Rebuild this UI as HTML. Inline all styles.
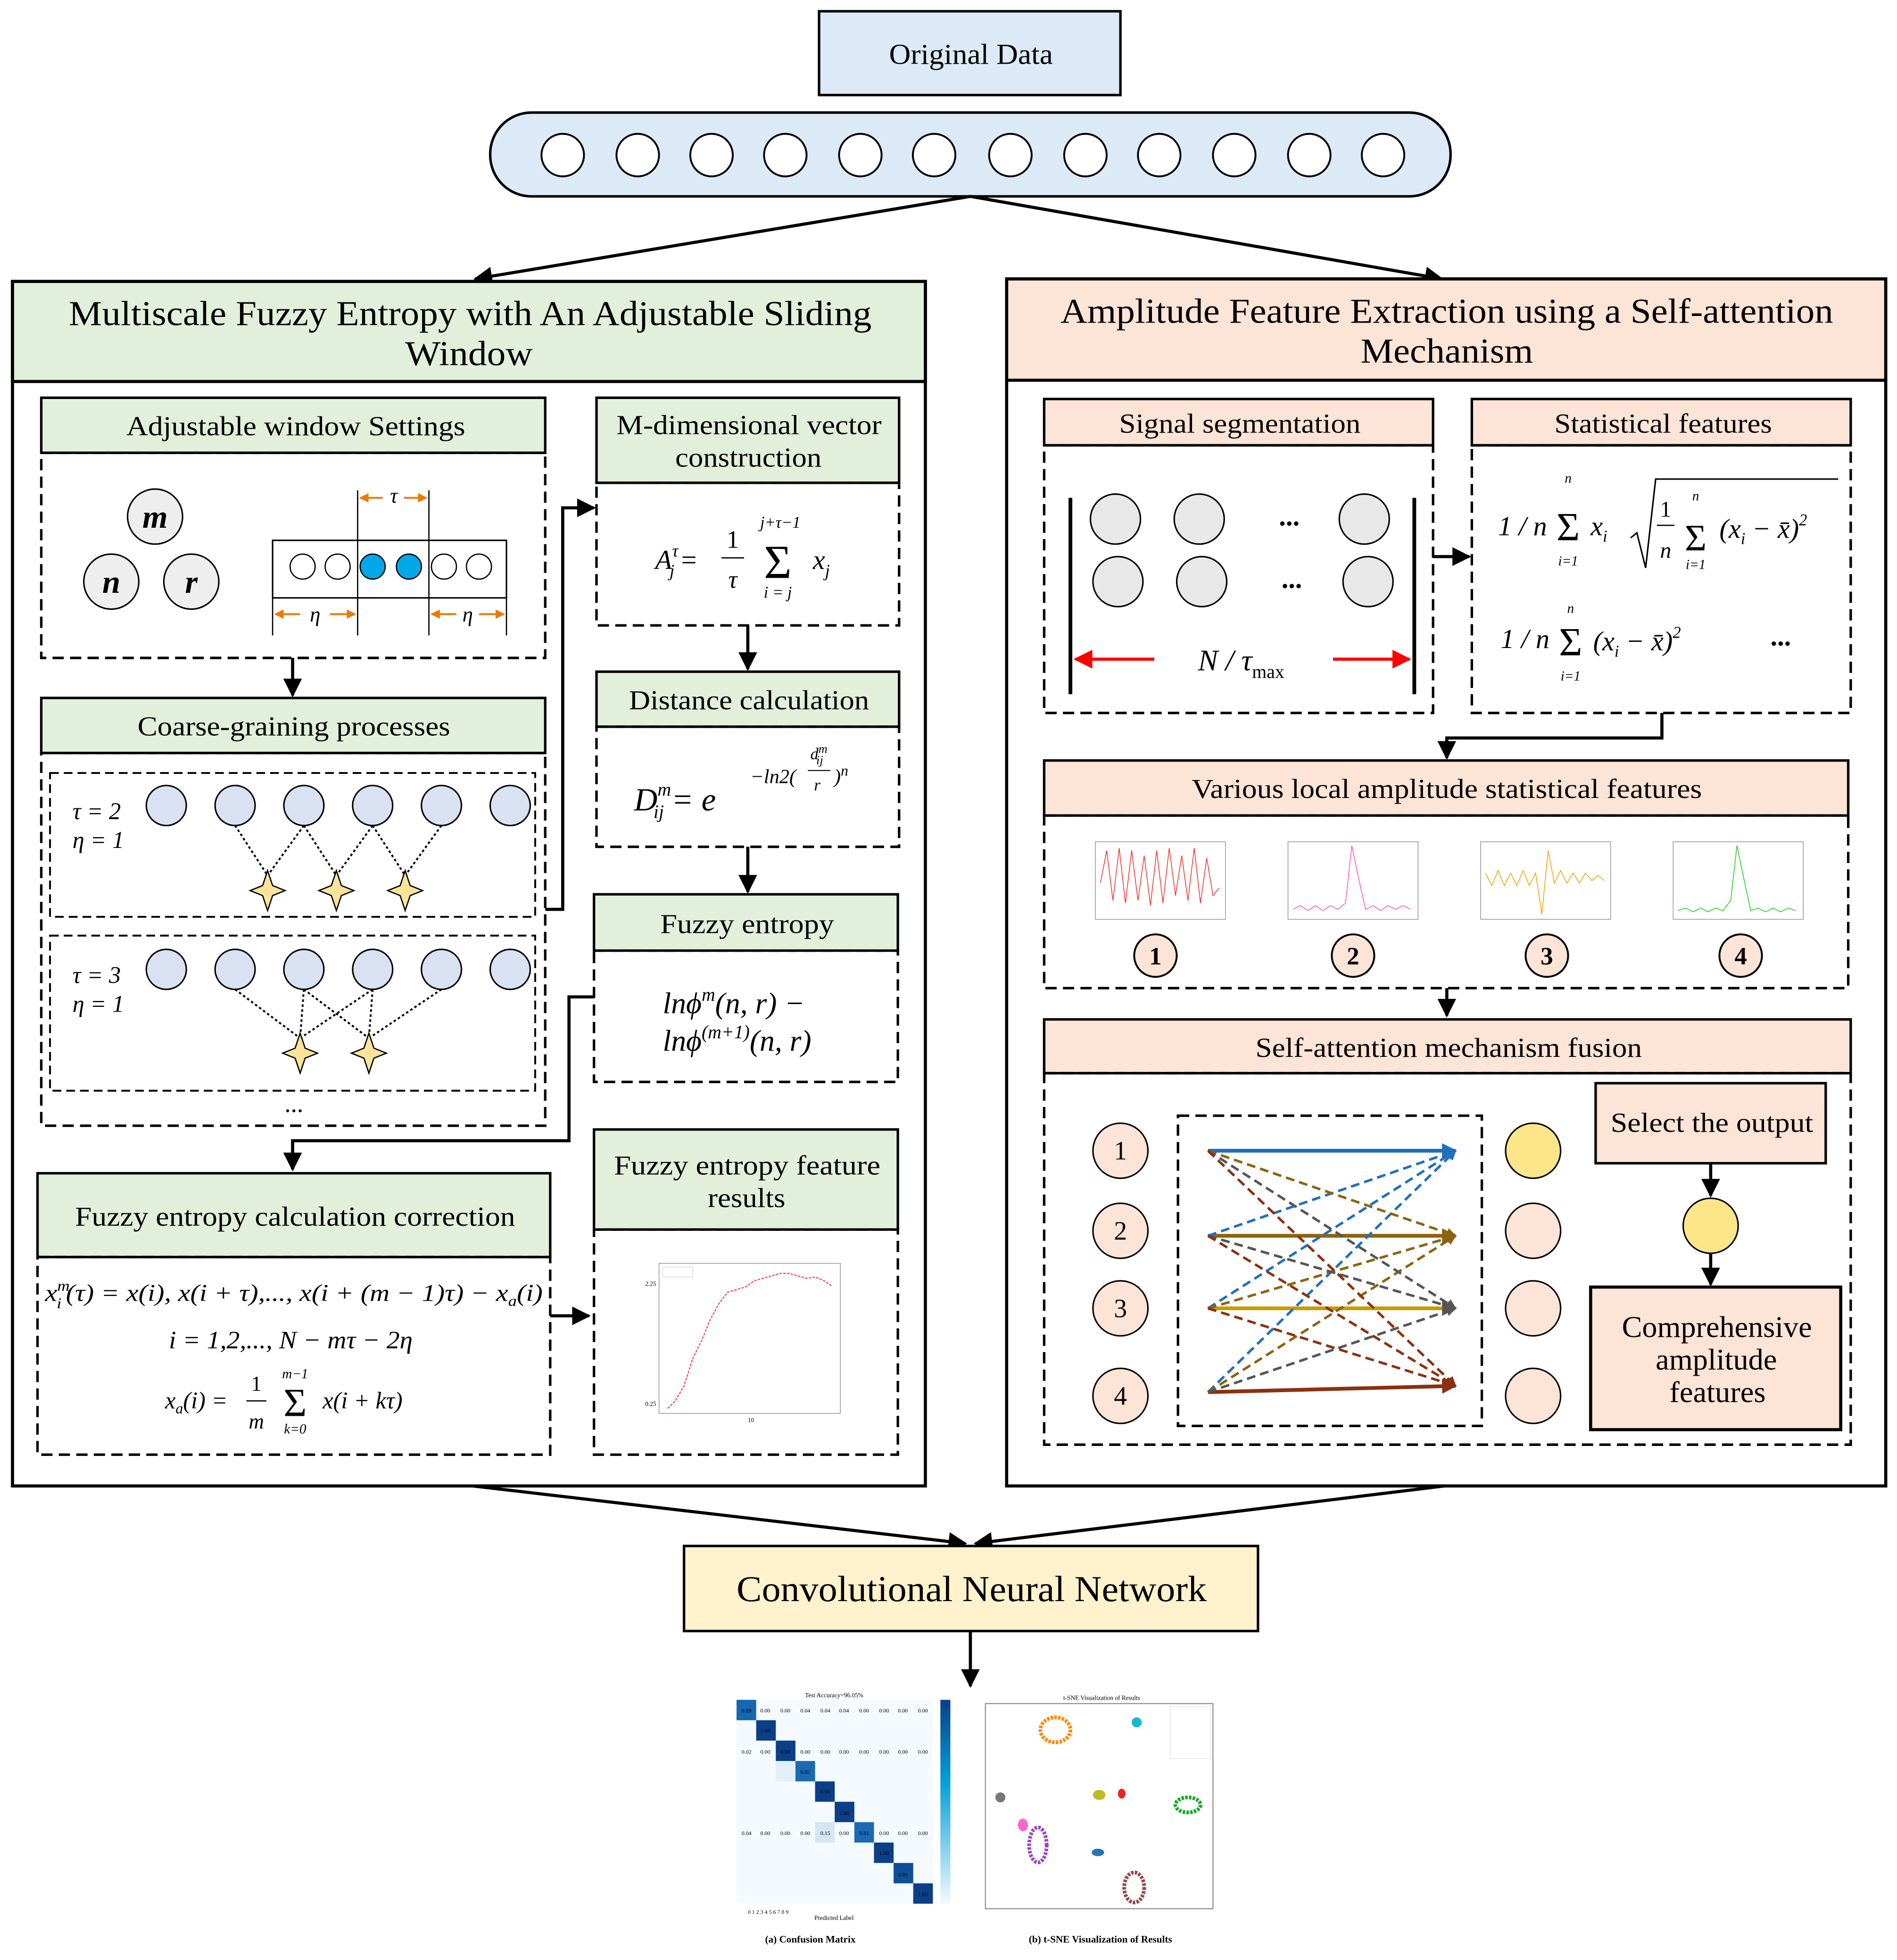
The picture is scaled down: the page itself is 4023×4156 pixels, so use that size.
<!DOCTYPE html>
<html><head><meta charset="utf-8"><style>
html,body{margin:0;padding:0;background:#fff;}
svg{display:block;}
text{font-family:"Liberation Serif",serif;fill:#000;}
.i{font-style:italic;}
</style></head><body>
<svg width="4023" height="4156" viewBox="0 0 1517 1567" preserveAspectRatio="none" xmlns="http://www.w3.org/2000/svg">
<defs>
<marker id="ah" viewBox="0 0 10 10" refX="9" refY="5" markerWidth="6" markerHeight="6" orient="auto"><path d="M0,0 L10,5 L0,10 z" fill="#000"/></marker>
<marker id="ar" viewBox="0 0 10 10" refX="9" refY="5" markerWidth="6" markerHeight="6" orient="auto"><path d="M0,0 L10,5 L0,10 z" fill="#f00"/></marker>
<marker id="ao" viewBox="0 0 10 10" refX="9" refY="5" markerWidth="5" markerHeight="5" orient="auto"><path d="M0,0 L10,5 L0,10 z" fill="#f07800"/></marker>
<marker id="mb" viewBox="0 0 10 10" refX="9" refY="5" markerWidth="4" markerHeight="4" orient="auto"><path d="M0,0 L10,5 L0,10 z" fill="#1f6fbf"/></marker>
<marker id="mn" viewBox="0 0 10 10" refX="9" refY="5" markerWidth="4" markerHeight="4" orient="auto"><path d="M0,0 L10,5 L0,10 z" fill="#8a6410"/></marker>
<marker id="mg" viewBox="0 0 10 10" refX="9" refY="5" markerWidth="4" markerHeight="4" orient="auto"><path d="M0,0 L10,5 L0,10 z" fill="#555"/></marker>
<marker id="md" viewBox="0 0 10 10" refX="9" refY="5" markerWidth="4" markerHeight="4" orient="auto"><path d="M0,0 L10,5 L0,10 z" fill="#8b3010"/></marker>
<path id="star" d="M0,-16 L4,-4 L14,0 L4,4 L0,16 L-4,4 L-14,0 L-4,-4 Z"/>
<linearGradient id="cb" x1="0" y1="0" x2="0" y2="1"><stop offset="0" stop-color="#0b3f87"/><stop offset="0.4" stop-color="#00a0d8"/><stop offset="1" stop-color="#f5faff"/></linearGradient>
</defs>

<!-- Original data -->
<rect x="655" y="9" width="241" height="67" fill="#dbeaf6" stroke="#000" stroke-width="2"/>
<text x="711" y="51" font-size="23" textLength="131" lengthAdjust="spacingAndGlyphs">Original Data</text>
<rect x="392" y="90" width="768" height="67" rx="33" fill="#dbeaf6" stroke="#000" stroke-width="2"/>
<g fill="#fff" stroke="#000" stroke-width="1.5">
<circle cx="450" cy="124" r="17"/><circle cx="510" cy="124" r="17"/><circle cx="569" cy="124" r="17"/><circle cx="628" cy="124" r="17"/><circle cx="688" cy="124" r="17"/><circle cx="747" cy="124" r="17"/><circle cx="808" cy="124" r="17"/><circle cx="868" cy="124" r="17"/><circle cx="927" cy="124" r="17"/><circle cx="987" cy="124" r="17"/><circle cx="1047" cy="124" r="17"/><circle cx="1106" cy="124" r="17"/>
</g>
<g stroke="#000" stroke-width="2.5" fill="none" marker-end="url(#ah)">
<line x1="776" y1="157" x2="380" y2="223"/>
<line x1="776" y1="157" x2="1153" y2="223"/>
</g>

<!-- LEFT PANEL -->
<rect x="10" y="225" width="730" height="963" fill="#fff" stroke="#000" stroke-width="2.5"/>
<rect x="10" y="225" width="730" height="80" fill="#e2efda" stroke="#000" stroke-width="2.5"/>
<text x="55" y="260" font-size="28" textLength="642" lengthAdjust="spacingAndGlyphs">Multiscale Fuzzy Entropy with An Adjustable Sliding</text>
<text x="324" y="292" font-size="28" textLength="102" lengthAdjust="spacingAndGlyphs">Window</text>

<!-- Adjustable window -->
<rect x="33" y="318" width="403" height="44" fill="#e2efda" stroke="#000" stroke-width="2"/>
<text x="101" y="348" font-size="22" textLength="271" lengthAdjust="spacingAndGlyphs">Adjustable window Settings</text>
<rect x="33" y="362" width="403" height="164" fill="none" stroke="#000" stroke-width="2" stroke-dasharray="9,5"/>
<g fill="#eee" stroke="#000" stroke-width="1.2"><circle cx="124" cy="413" r="22"/><circle cx="89" cy="465" r="22"/><circle cx="153" cy="465" r="22"/></g>
<text x="124" y="422" font-size="26" class="i" font-weight="bold" text-anchor="middle">m</text>
<text x="89" y="474" font-size="26" class="i" font-weight="bold" text-anchor="middle">n</text>
<text x="153" y="474" font-size="26" class="i" font-weight="bold" text-anchor="middle">r</text>
<rect x="218" y="432" width="187" height="46" fill="none" stroke="#000" stroke-width="1.2"/>
<line x1="286" y1="392" x2="286" y2="508" stroke="#000" stroke-width="1"/>
<line x1="343" y1="392" x2="343" y2="478" stroke="#000" stroke-width="1"/>
<line x1="218" y1="478" x2="218" y2="508" stroke="#000" stroke-width="1"/>
<line x1="405" y1="478" x2="405" y2="508" stroke="#000" stroke-width="1"/>
<line x1="343" y1="478" x2="343" y2="508" stroke="#000" stroke-width="1"/>
<g stroke="#000" stroke-width="1"><circle cx="242" cy="453" r="10" fill="#fff"/><circle cx="270" cy="453" r="10" fill="#fff"/><circle cx="298" cy="453" r="10" fill="#00a8e8"/><circle cx="327" cy="453" r="10" fill="#00a8e8"/><circle cx="355" cy="453" r="10" fill="#fff"/><circle cx="383" cy="453" r="10" fill="#fff"/></g>
<g stroke="#f07800" stroke-width="1.5" marker-end="url(#ao)">
<line x1="306" y1="398" x2="288" y2="398"/><line x1="323" y1="398" x2="341" y2="398"/>
<line x1="240" y1="491" x2="220" y2="491"/><line x1="264" y1="491" x2="284" y2="491"/>
<line x1="365" y1="491" x2="345" y2="491"/><line x1="383" y1="491" x2="403" y2="491"/>
</g>
<text x="315" y="402" font-size="17" class="i" text-anchor="middle">τ</text>
<text x="252" y="497" font-size="17" class="i" text-anchor="middle">η</text>
<text x="374" y="497" font-size="17" class="i" text-anchor="middle">η</text>
<line x1="234" y1="526" x2="234" y2="556" stroke="#000" stroke-width="2.5" marker-end="url(#ah)"/>

<!-- Coarse graining -->
<rect x="33" y="558" width="403" height="44" fill="#e2efda" stroke="#000" stroke-width="2"/>
<text x="110" y="588" font-size="22" textLength="250" lengthAdjust="spacingAndGlyphs">Coarse-graining processes</text>
<rect x="33" y="602" width="403" height="298" fill="none" stroke="#000" stroke-width="2" stroke-dasharray="9,5"/>
<rect x="40" y="618" width="388" height="115" fill="none" stroke="#000" stroke-width="1.5" stroke-dasharray="7,4"/>
<rect x="40" y="748" width="388" height="124" fill="none" stroke="#000" stroke-width="1.5" stroke-dasharray="7,4"/>
<text x="58" y="655" font-size="19" class="i">τ = 2</text>
<text x="58" y="678" font-size="19" class="i">η = 1</text>
<text x="58" y="786" font-size="19" class="i">τ = 3</text>
<text x="58" y="809" font-size="19" class="i">η = 1</text>
<g stroke="#000" stroke-width="1.5" stroke-dasharray="2,2">
<line x1="188" y1="660" x2="214" y2="700"/><line x1="243" y1="660" x2="214" y2="700"/>
<line x1="243" y1="660" x2="269" y2="700"/><line x1="298" y1="660" x2="269" y2="700"/>
<line x1="298" y1="660" x2="324" y2="700"/><line x1="353" y1="660" x2="324" y2="700"/>
<line x1="188" y1="791" x2="240" y2="830"/><line x1="243" y1="791" x2="240" y2="830"/><line x1="298" y1="791" x2="240" y2="830"/>
<line x1="243" y1="791" x2="295" y2="830"/><line x1="298" y1="791" x2="295" y2="830"/><line x1="353" y1="791" x2="295" y2="830"/>
</g>
<g fill="#d9e1f2" stroke="#000" stroke-width="1.2">
<circle cx="133" cy="644" r="16"/><circle cx="188" cy="644" r="16"/><circle cx="243" cy="644" r="16"/><circle cx="298" cy="644" r="16"/><circle cx="353" cy="644" r="16"/><circle cx="408" cy="644" r="16"/>
<circle cx="133" cy="775" r="16"/><circle cx="188" cy="775" r="16"/><circle cx="243" cy="775" r="16"/><circle cx="298" cy="775" r="16"/><circle cx="353" cy="775" r="16"/><circle cx="408" cy="775" r="16"/>
</g>
<g fill="#fbe39a" stroke="#000" stroke-width="1">
<use href="#star" x="214" y="712"/><use href="#star" x="269" y="712"/><use href="#star" x="324" y="712"/>
<use href="#star" x="240" y="842"/><use href="#star" x="295" y="842"/>
</g>
<text x="235" y="889" font-size="20" text-anchor="middle">...</text>
<polyline points="436,727 450,727 450,406 475,406" fill="none" stroke="#000" stroke-width="2.5" marker-end="url(#ah)"/>
<polyline points="475,797 455,797 455,912 234,912 234,935" fill="none" stroke="#000" stroke-width="2.5" marker-end="url(#ah)"/>

<!-- FE calc correction -->
<rect x="30" y="938" width="410" height="67" fill="#e2efda" stroke="#000" stroke-width="2"/>
<text x="60" y="980" font-size="22" textLength="352" lengthAdjust="spacingAndGlyphs">Fuzzy entropy calculation correction</text>
<rect x="30" y="1005" width="410" height="158" fill="none" stroke="#000" stroke-width="2" stroke-dasharray="9,5"/>
<text x="36" y="1040" font-size="19" class="i" textLength="398" lengthAdjust="spacingAndGlyphs">x<tspan font-size="12" dy="-8">m</tspan><tspan font-size="12" dx="-9" dy="14">i</tspan><tspan dy="-6" dx="3">(τ) = x(i), x(i + τ),..., x(i + (m − 1)τ) − x</tspan><tspan font-size="12" dy="4">a</tspan><tspan dy="-4">(i)</tspan></text>
<text x="135" y="1078" font-size="20" class="i" textLength="195" lengthAdjust="spacingAndGlyphs">i = 1,2,..., N − mτ − 2η</text>
<text x="132" y="1126" font-size="19" class="i">x<tspan font-size="12" dy="4">a</tspan><tspan dy="-4">(i) =</tspan></text>
<text x="205" y="1112" font-size="17" text-anchor="middle">1</text>
<line x1="197" y1="1120" x2="213" y2="1120" stroke="#000" stroke-width="1"/>
<text x="205" y="1142" font-size="17" class="i" text-anchor="middle">m</text>
<text x="236" y="1102" font-size="11" class="i" text-anchor="middle">m−1</text>
<text x="236" y="1132" font-size="32" text-anchor="middle">Σ</text>
<text x="236" y="1146" font-size="11" class="i" text-anchor="middle">k=0</text>
<text x="258" y="1126" font-size="19" class="i">x(i + kτ)</text>
<line x1="440" y1="1052" x2="471" y2="1052" stroke="#000" stroke-width="2.5" marker-end="url(#ah)"/>

<!-- M-dimensional -->
<rect x="477" y="318" width="242" height="68" fill="#e2efda" stroke="#000" stroke-width="2"/>
<text x="493" y="347" font-size="22" textLength="212" lengthAdjust="spacingAndGlyphs">M-dimensional vector</text>
<text x="540" y="373" font-size="22" textLength="117" lengthAdjust="spacingAndGlyphs">construction</text>
<rect x="477" y="386" width="242" height="114" fill="none" stroke="#000" stroke-width="2" stroke-dasharray="9,5"/>
<text x="524" y="455" font-size="22" class="i">A<tspan font-size="14" dy="-10">τ</tspan><tspan font-size="14" dx="-7" dy="16">j</tspan><tspan dy="-6" dx="4">=</tspan></text>
<text x="586" y="438" font-size="20" text-anchor="middle">1</text>
<line x1="577" y1="446" x2="595" y2="446" stroke="#000" stroke-width="1"/>
<text x="586" y="470" font-size="20" class="i" text-anchor="middle">τ</text>
<text x="624" y="422" font-size="13" class="i" text-anchor="middle">j+τ−1</text>
<text x="622" y="462" font-size="38" text-anchor="middle">Σ</text>
<text x="622" y="478" font-size="13" class="i" text-anchor="middle">i = j</text>
<text x="650" y="455" font-size="22" class="i">x<tspan font-size="14" dy="6">j</tspan></text>
<line x1="598" y1="500" x2="598" y2="535" stroke="#000" stroke-width="2.5" marker-end="url(#ah)"/>

<!-- Distance -->
<rect x="477" y="537" width="242" height="44" fill="#e2efda" stroke="#000" stroke-width="2"/>
<text x="503" y="567" font-size="22" textLength="192" lengthAdjust="spacingAndGlyphs">Distance calculation</text>
<rect x="477" y="581" width="242" height="96" fill="none" stroke="#000" stroke-width="2" stroke-dasharray="9,5"/>
<text x="507" y="648" font-size="26" class="i">D<tspan font-size="15" dy="-12">m</tspan><tspan font-size="15" dx="-14" dy="18">ij</tspan><tspan dy="-6" dx="6">= e</tspan></text>
<text x="600" y="626" font-size="16" class="i">−ln2(</text>
<text x="648" y="607" font-size="13" class="i">d<tspan font-size="10" dy="-5">m</tspan><tspan font-size="10" dx="-9" dy="9">ij</tspan></text>
<line x1="646" y1="616" x2="664" y2="616" stroke="#000" stroke-width="0.8"/>
<text x="651" y="632" font-size="13" class="i">r</text>
<text x="667" y="626" font-size="16" class="i">)<tspan font-size="12" dy="-6">n</tspan></text>
<line x1="598" y1="677" x2="598" y2="713" stroke="#000" stroke-width="2.5" marker-end="url(#ah)"/>

<!-- Fuzzy entropy -->
<rect x="475" y="715" width="243" height="45" fill="#e2efda" stroke="#000" stroke-width="2"/>
<text x="528" y="746" font-size="22" textLength="139" lengthAdjust="spacingAndGlyphs">Fuzzy entropy</text>
<rect x="475" y="760" width="243" height="105" fill="none" stroke="#000" stroke-width="2" stroke-dasharray="9,5"/>
<text x="530" y="810" font-size="24" class="i">lnϕ<tspan font-size="15" dy="-10">m</tspan><tspan dy="10">(n, r) −</tspan></text>
<text x="530" y="840" font-size="24" class="i">lnϕ<tspan font-size="15" dy="-10">(m+1)</tspan><tspan dy="10">(n, r)</tspan></text>

<!-- FE feature results -->
<rect x="475" y="903" width="243" height="80" fill="#e2efda" stroke="#000" stroke-width="2"/>
<text x="491" y="939" font-size="22" textLength="213" lengthAdjust="spacingAndGlyphs">Fuzzy entropy feature</text>
<text x="566" y="965" font-size="22" textLength="62" lengthAdjust="spacingAndGlyphs">results</text>
<rect x="475" y="983" width="243" height="180" fill="none" stroke="#000" stroke-width="2" stroke-dasharray="9,5"/>
<rect x="527" y="1010" width="145" height="120" fill="none" stroke="#999" stroke-width="0.6"/>
<polyline points="534,1126 540,1120 547,1108 554,1086 561,1072 568,1055 575,1042 582,1033 589,1031 596,1029 603,1024 610,1022 617,1020 624,1018 631,1018 638,1020 645,1022 652,1021 659,1024 665,1028" fill="none" stroke="#f33" stroke-width="0.8" stroke-dasharray="2,1"/>
<rect x="530" y="1013" width="24" height="8" fill="#fff" stroke="#ccc" stroke-width="0.4"/>
<text x="516" y="1028" font-size="5">2.25</text>
<text x="516" y="1124" font-size="5">0.25</text>
<text x="598" y="1137" font-size="5">10</text>

<!-- RIGHT PANEL -->
<rect x="805" y="223" width="703" height="965" fill="#fff" stroke="#000" stroke-width="2.5"/>
<rect x="805" y="223" width="703" height="81" fill="#fce4d6" stroke="#000" stroke-width="2.5"/>
<text x="848" y="258" font-size="28" textLength="618" lengthAdjust="spacingAndGlyphs">Amplitude Feature Extraction using a Self-attention</text>
<text x="1088" y="290" font-size="28" textLength="138" lengthAdjust="spacingAndGlyphs">Mechanism</text>

<!-- signal segmentation -->
<rect x="835" y="319" width="311" height="37" fill="#fce4d6" stroke="#000" stroke-width="2"/>
<text x="895" y="346" font-size="22" textLength="193" lengthAdjust="spacingAndGlyphs">Signal segmentation</text>
<rect x="835" y="356" width="311" height="214" fill="none" stroke="#000" stroke-width="2" stroke-dasharray="9,5"/>
<line x1="856" y1="398" x2="856" y2="555" stroke="#000" stroke-width="3"/>
<line x1="1131" y1="398" x2="1131" y2="555" stroke="#000" stroke-width="3"/>
<g fill="#e8e8e8" stroke="#000" stroke-width="1.2">
<circle cx="892" cy="415" r="20"/><circle cx="959" cy="415" r="20"/><circle cx="1091" cy="415" r="20"/>
<circle cx="894" cy="465" r="20"/><circle cx="961" cy="465" r="20"/><circle cx="1094" cy="465" r="20"/>
</g>
<text x="1031" y="420" font-size="22" text-anchor="middle" font-weight="bold">...</text>
<text x="1033" y="470" font-size="22" text-anchor="middle" font-weight="bold">...</text>
<line x1="923" y1="527" x2="860" y2="527" stroke="#f00" stroke-width="2.5" marker-end="url(#ar)"/>
<line x1="1066" y1="527" x2="1127" y2="527" stroke="#f00" stroke-width="2.5" marker-end="url(#ar)"/>
<text x="958" y="536" font-size="24" class="i">N / τ<tspan font-size="15" font-style="normal" dy="6">max</tspan></text>
<line x1="1146" y1="445" x2="1175" y2="445" stroke="#000" stroke-width="2.5" marker-end="url(#ah)"/>

<!-- statistical features -->
<rect x="1177" y="319" width="303" height="37" fill="#fce4d6" stroke="#000" stroke-width="2"/>
<text x="1243" y="346" font-size="22" textLength="174" lengthAdjust="spacingAndGlyphs">Statistical features</text>
<rect x="1177" y="356" width="303" height="214" fill="none" stroke="#000" stroke-width="2" stroke-dasharray="9,5"/>
<text x="1198" y="428" font-size="22" class="i">1 / n</text>
<text x="1254" y="386" font-size="11" class="i" text-anchor="middle">n</text>
<text x="1254" y="432" font-size="32" text-anchor="middle">Σ</text>
<text x="1254" y="452" font-size="11" class="i" text-anchor="middle">i=1</text>
<text x="1272" y="428" font-size="22" class="i">x<tspan font-size="13" dy="5">i</tspan></text>
<polyline points="1304,430 1309,426 1316,454 1324,383 1470,383" fill="none" stroke="#000" stroke-width="1.2"/>
<text x="1332" y="413" font-size="18" text-anchor="middle">1</text>
<line x1="1325" y1="420" x2="1339" y2="420" stroke="#000" stroke-width="1"/>
<text x="1332" y="446" font-size="18" class="i" text-anchor="middle">n</text>
<text x="1356" y="400" font-size="11" class="i" text-anchor="middle">n</text>
<text x="1356" y="440" font-size="30" text-anchor="middle">Σ</text>
<text x="1356" y="455" font-size="11" class="i" text-anchor="middle">i=1</text>
<text x="1375" y="430" font-size="22" class="i">(x<tspan font-size="13" dy="5">i</tspan><tspan dy="-5"> − x̄)</tspan><tspan font-size="13" dy="-10">2</tspan></text>
<text x="1200" y="518" font-size="22" class="i">1 / n</text>
<text x="1256" y="490" font-size="11" class="i" text-anchor="middle">n</text>
<text x="1256" y="524" font-size="32" text-anchor="middle">Σ</text>
<text x="1256" y="544" font-size="11" class="i" text-anchor="middle">i=1</text>
<text x="1274" y="520" font-size="22" class="i">(x<tspan font-size="13" dy="5">i</tspan><tspan dy="-5"> − x̄)</tspan><tspan font-size="13" dy="-10">2</tspan></text>
<text x="1424" y="516" font-size="22" text-anchor="middle" font-weight="bold">...</text>
<polyline points="1329,570 1329,590 1157,590 1157,606" fill="none" stroke="#000" stroke-width="2.5" marker-end="url(#ah)"/>

<!-- various local -->
<rect x="835" y="608" width="643" height="44" fill="#fce4d6" stroke="#000" stroke-width="2"/>
<text x="953" y="638" font-size="22" textLength="408" lengthAdjust="spacingAndGlyphs">Various local amplitude statistical features</text>
<rect x="835" y="652" width="643" height="138" fill="none" stroke="#000" stroke-width="2" stroke-dasharray="9,5"/>
<g fill="none" stroke-width="0.6">
<rect x="876" y="673" width="104" height="62" stroke="#999"/>
<polyline points="880,706 885,680 890,720 895,678 900,722 905,680 910,720 915,684 920,724 925,680 930,722 935,678 940,716 945,684 950,720 955,678 960,722 965,686 970,716 975,710" stroke="#e33"/>
<rect x="1030" y="673" width="104" height="62" stroke="#999"/>
<polyline points="1034,727 1040,724 1046,728 1052,724 1058,728 1064,724 1070,727 1076,722 1081,676 1086,700 1092,727 1098,724 1104,728 1110,724 1116,727 1122,724 1128,727" stroke="#f5a"/>
<rect x="1184" y="673" width="104" height="62" stroke="#999"/>
<polyline points="1188,698 1193,708 1198,696 1203,708 1208,698 1213,708 1218,696 1223,708 1228,698 1233,731 1238,680 1243,706 1248,696 1253,706 1258,698 1263,706 1268,698 1273,704 1278,700 1283,704" stroke="#f5a000"/>
<rect x="1338" y="673" width="104" height="62" stroke="#999"/>
<polyline points="1342,728 1348,726 1354,729 1360,726 1366,729 1372,726 1378,728 1384,720 1389,676 1394,700 1400,728 1406,726 1412,729 1418,726 1424,729 1430,726 1436,728" stroke="#2c2"/>
</g>
<g fill="#fce4d6" stroke="#000" stroke-width="1.5">
<circle cx="924" cy="764" r="17"/><circle cx="1082" cy="764" r="17"/><circle cx="1237" cy="764" r="17"/><circle cx="1392" cy="764" r="17"/>
</g>
<g font-size="20" font-weight="bold" text-anchor="middle"><text x="924" y="771">1</text><text x="1082" y="771">2</text><text x="1237" y="771">3</text><text x="1392" y="771">4</text></g>
<line x1="1157" y1="790" x2="1157" y2="812" stroke="#000" stroke-width="2.5" marker-end="url(#ah)"/>

<!-- self attention -->
<rect x="835" y="815" width="645" height="43" fill="#fce4d6" stroke="#000" stroke-width="2"/>
<text x="1004" y="845" font-size="22" textLength="309" lengthAdjust="spacingAndGlyphs">Self-attention mechanism fusion</text>
<rect x="835" y="858" width="645" height="297" fill="none" stroke="#000" stroke-width="2" stroke-dasharray="9,5"/>
<rect x="942" y="892" width="243" height="248" fill="none" stroke="#000" stroke-width="2" stroke-dasharray="9,5"/>
<g fill="#fce4d6" stroke="#000" stroke-width="1.2">
<circle cx="896" cy="920" r="22"/><circle cx="896" cy="984" r="22"/><circle cx="896" cy="1046" r="22"/><circle cx="896" cy="1116" r="22"/>
<circle cx="1226" cy="920" r="22" fill="#fde58a"/><circle cx="1226" cy="984" r="22"/><circle cx="1226" cy="1046" r="22"/><circle cx="1226" cy="1116" r="22"/>
</g>
<g font-size="21" text-anchor="middle"><text x="896" y="927">1</text><text x="896" y="991">2</text><text x="896" y="1053">3</text><text x="896" y="1123">4</text></g>
<g fill="none" stroke-width="2">
<line x1="966" y1="920" x2="1164" y2="920" stroke="#1f6fbf" stroke-width="3" marker-end="url(#mb)"/>
<line x1="966" y1="988" x2="1164" y2="988" stroke="#8a6410" stroke-width="3" marker-end="url(#mn)"/>
<line x1="966" y1="1046" x2="1164" y2="1046" stroke="#c89a00" stroke-width="3" marker-end="url(#mg)"/>
<line x1="966" y1="1113" x2="1164" y2="1108" stroke="#8b3010" stroke-width="3" marker-end="url(#md)"/>
<g stroke-dasharray="7,4">
<line x1="966" y1="988" x2="1164" y2="920" stroke="#1f6fbf" marker-end="url(#mb)"/>
<line x1="966" y1="1046" x2="1164" y2="920" stroke="#1f6fbf" marker-end="url(#mb)"/>
<line x1="966" y1="1113" x2="1164" y2="920" stroke="#1f6fbf" marker-end="url(#mb)"/>
<line x1="966" y1="920" x2="1164" y2="988" stroke="#8a6410" marker-end="url(#mn)"/>
<line x1="966" y1="1046" x2="1164" y2="988" stroke="#8a6410" marker-end="url(#mn)"/>
<line x1="966" y1="1113" x2="1164" y2="988" stroke="#8a6410" marker-end="url(#mn)"/>
<line x1="966" y1="920" x2="1164" y2="1046" stroke="#555" marker-end="url(#mg)"/>
<line x1="966" y1="988" x2="1164" y2="1046" stroke="#555" marker-end="url(#mg)"/>
<line x1="966" y1="1113" x2="1164" y2="1046" stroke="#555" marker-end="url(#mg)"/>
<line x1="966" y1="920" x2="1164" y2="1108" stroke="#8b3010" marker-end="url(#md)"/>
<line x1="966" y1="988" x2="1164" y2="1108" stroke="#8b3010" marker-end="url(#md)"/>
<line x1="966" y1="1046" x2="1164" y2="1108" stroke="#8b3010" marker-end="url(#md)"/>
</g></g>
<rect x="1276" y="866" width="184" height="64" fill="#fce4d6" stroke="#000" stroke-width="2"/>
<text x="1288" y="905" font-size="22" textLength="162" lengthAdjust="spacingAndGlyphs">Select the output</text>
<line x1="1368" y1="930" x2="1368" y2="956" stroke="#000" stroke-width="2.5" marker-end="url(#ah)"/>
<circle cx="1368" cy="980" r="22" fill="#fde58a" stroke="#000" stroke-width="1.2"/>
<line x1="1368" y1="1002" x2="1368" y2="1027" stroke="#000" stroke-width="2.5" marker-end="url(#ah)"/>
<rect x="1272" y="1029" width="200" height="114" fill="#fce4d6" stroke="#000" stroke-width="2.5"/>
<text x="1297" y="1069" font-size="24" textLength="152" lengthAdjust="spacingAndGlyphs">Comprehensive</text>
<text x="1324" y="1095" font-size="24" textLength="97" lengthAdjust="spacingAndGlyphs">amplitude</text>
<text x="1335" y="1121" font-size="24" textLength="77" lengthAdjust="spacingAndGlyphs">features</text>

<!-- to CNN -->
<g stroke="#000" stroke-width="2.5" fill="none" marker-end="url(#ah)">
<line x1="378" y1="1188" x2="772" y2="1234"/>
<line x1="1155" y1="1188" x2="780" y2="1234"/>
</g>
<rect x="547" y="1236" width="459" height="68" fill="#fff2cc" stroke="#000" stroke-width="2"/>
<text x="589" y="1280" font-size="29" textLength="376" lengthAdjust="spacingAndGlyphs">Convolutional Neural Network</text>
<line x1="776" y1="1304" x2="776" y2="1348" stroke="#000" stroke-width="2.5" marker-end="url(#ah)"/>

<!-- confusion matrix -->
<text x="667" y="1357" font-size="5" text-anchor="middle">Test Accuracy=96.05%</text>
<rect x="589" y="1359" width="157" height="163" fill="#f5faff"/>
<g fill="#0b3f87">
<rect x="589" y="1359" width="15.7" height="16.3" fill="#1666b0"/>
<rect x="604.7" y="1375.3" width="15.7" height="16.3"/>
<rect x="620.4" y="1391.6" width="15.7" height="16.3"/>
<rect x="636.1" y="1407.9" width="15.7" height="16.3" fill="#1a6ab4"/>
<rect x="651.8" y="1424.2" width="15.7" height="16.3"/>
<rect x="667.5" y="1440.5" width="15.7" height="16.3"/>
<rect x="683.2" y="1456.8" width="15.7" height="16.3" fill="#1a6ab4"/>
<rect x="698.9" y="1473.1" width="15.7" height="16.3"/>
<rect x="714.6" y="1489.4" width="15.7" height="16.3" fill="#0f4f98"/>
<rect x="730.3" y="1505.7" width="15.7" height="16.3"/>
</g>
<rect x="620.4" y="1407.9" width="15.7" height="16.3" fill="#e2eef8"/>
<rect x="651.8" y="1456.8" width="15.7" height="16.3" fill="#d4e6f4"/>
<rect x="752" y="1359" width="8" height="163" fill="url(#cb)"/>
<g font-size="4.5" text-anchor="middle" fill="#555">
<text x="612" y="1369">0.00</text><text x="628" y="1369">0.00</text><text x="644" y="1369">0.04</text><text x="660" y="1369">0.04</text><text x="675" y="1369">0.04</text><text x="691" y="1369">0.00</text><text x="707" y="1369">0.00</text><text x="722" y="1369">0.00</text><text x="738" y="1369">0.00</text>
<text x="597" y="1402">0.02</text><text x="612" y="1402">0.00</text><text x="644" y="1402">0.00</text><text x="660" y="1402">0.00</text><text x="675" y="1402">0.00</text><text x="691" y="1402">0.00</text><text x="707" y="1402">0.00</text><text x="722" y="1402">0.00</text><text x="738" y="1402">0.00</text>
<text x="597" y="1467">0.04</text><text x="612" y="1467">0.00</text><text x="628" y="1467">0.00</text><text x="644" y="1467">0.00</text><text x="660" y="1467">0.15</text><text x="675" y="1467">0.00</text><text x="707" y="1467">0.00</text><text x="722" y="1467">0.00</text><text x="738" y="1467">0.00</text>
</g>
<g font-size="4.5" text-anchor="middle" fill="#fff">
<text x="597" y="1369">0.89</text><text x="612" y="1385">1.00</text><text x="628" y="1402">0.98</text><text x="644" y="1418">0.82</text><text x="660" y="1434">0.96</text><text x="675" y="1451">1.04</text><text x="691" y="1467">0.81</text><text x="707" y="1483">1.00</text><text x="722" y="1500">0.91</text><text x="738" y="1516">1.00</text>
</g>
<text x="598" y="1530" font-size="4.5">0  1  2  3  4  5  6  7  8  9</text>
<text x="667" y="1535" font-size="5" text-anchor="middle">Predicted Label</text>
<!-- tsne -->
<text x="881" y="1359" font-size="5" text-anchor="middle">t-SNE Visualization of Results</text>
<rect x="788" y="1362" width="182" height="164" fill="#fff" stroke="#888" stroke-width="0.8"/>
<rect x="936" y="1364" width="32" height="42" fill="#fff" stroke="#ddd" stroke-width="0.4"/>
<g>
<ellipse cx="844" cy="1383" rx="12" ry="10" fill="none" stroke="#f80" stroke-width="3" stroke-dasharray="2,1"/>
<ellipse cx="909" cy="1377" rx="4" ry="4" fill="#1bc"/>
<ellipse cx="879" cy="1435" rx="5" ry="4" fill="#bb2"/>
<ellipse cx="897" cy="1434" rx="3" ry="4" fill="#e22"/>
<ellipse cx="800" cy="1437" rx="4" ry="4" fill="#777"/>
<ellipse cx="950" cy="1443" rx="10" ry="6" fill="none" stroke="#1a2" stroke-width="3" stroke-dasharray="2,1"/>
<ellipse cx="818" cy="1459" rx="4" ry="5" fill="#f6c"/>
<ellipse cx="830" cy="1475" rx="7" ry="14" fill="none" stroke="#94c" stroke-width="3" stroke-dasharray="2,1"/>
<ellipse cx="878" cy="1481" rx="5" ry="3" fill="#27b"/>
<ellipse cx="907" cy="1509" rx="8" ry="12" fill="none" stroke="#944" stroke-width="3" stroke-dasharray="2,1"/>
</g>
<text x="648" y="1553" font-size="8" font-weight="bold" text-anchor="middle">(a) Confusion Matrix</text>
<text x="880" y="1553" font-size="8" font-weight="bold" text-anchor="middle">(b) t-SNE Visualization of Results</text>
</svg>
</body></html>
